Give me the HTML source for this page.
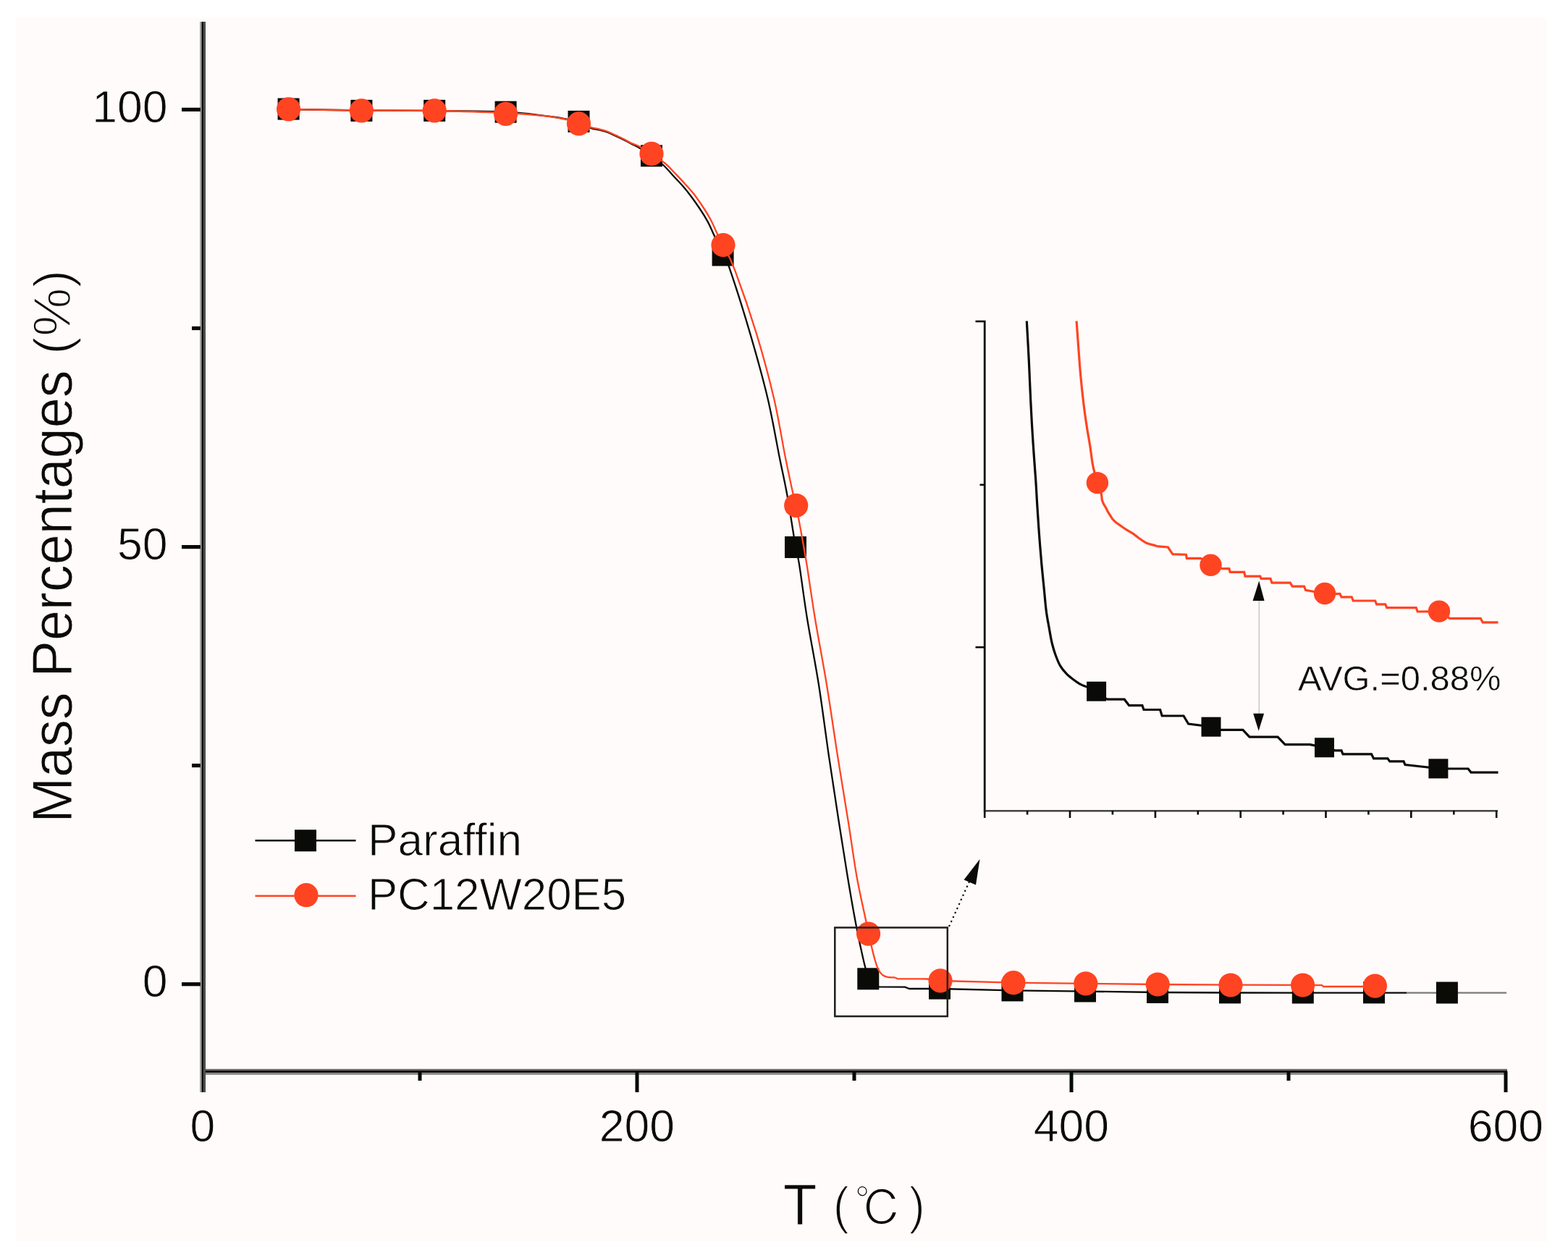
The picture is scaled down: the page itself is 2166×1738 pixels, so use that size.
<!DOCTYPE html>
<html><head><meta charset="utf-8"><title>TGA curves</title>
<style>
html,body{margin:0;padding:0;background:#ffffff;}
body{width:2166px;height:1738px;overflow:hidden;}
svg{display:block;}
svg text{font-family:"Liberation Sans", Arial, Helvetica, sans-serif;fill:#0a0b06;}
</style></head>
<body>
<svg width="2166" height="1738" viewBox="0 0 2166 1738">
<rect x="22" y="24" width="2115" height="1691" fill="#fffbfa"/>
<rect x="276" y="30" width="2" height="1479" fill="#a5a5a0"/>
<rect x="278" y="30" width="1" height="1479" fill="#5e5e5a"/>
<rect x="279" y="30" width="2.2" height="1479" fill="#050604"/>
<rect x="281.2" y="30" width="2.8" height="1479" fill="#4a4a44"/>
<rect x="284" y="1476.8" width="1798" height="2.3" fill="#6a6a65"/>
<rect x="284" y="1479.1" width="1798" height="2.8" fill="#050604"/>
<rect x="284" y="1481.9" width="1798" height="3" fill="#8b8b86"/>
<rect x="251" y="1357.1" width="26" height="5.2" fill="#080a04"/>
<rect x="251" y="753" width="26" height="5.2" fill="#080a04"/>
<rect x="251" y="148.8" width="26" height="5.2" fill="#080a04"/>
<rect x="265" y="1055" width="12" height="5.2" fill="#080a04"/>
<rect x="265" y="450.9" width="12" height="5.2" fill="#080a04"/>
<rect x="877.5" y="1480" width="5" height="29" fill="#080a04"/>
<rect x="1477.5" y="1480" width="5" height="29" fill="#080a04"/>
<rect x="2077.5" y="1480" width="5" height="29" fill="#080a04"/>
<rect x="577.5" y="1480" width="5" height="13" fill="#080a04"/>
<rect x="1177.5" y="1480" width="5" height="13" fill="#080a04"/>
<rect x="1777.5" y="1480" width="5" height="13" fill="#080a04"/>
<text transform="translate(231.6 1377.2) scale(1 1.01)" font-size="62.5" text-anchor="end" stroke="#fffbfa" stroke-linejoin="round" stroke-width="0.8">0</text>
<text transform="translate(231.6 773.1) scale(1 1.01)" font-size="62.5" text-anchor="end" stroke="#fffbfa" stroke-linejoin="round" stroke-width="0.8">50</text>
<text transform="translate(231.6 168.9) scale(1 1.01)" font-size="62.5" text-anchor="end" stroke="#fffbfa" stroke-linejoin="round" stroke-width="0.8">100</text>
<text transform="translate(280 1576.5) scale(1 1.01)" font-size="62.5" text-anchor="middle" stroke="#fffbfa" stroke-linejoin="round" stroke-width="0.8">0</text>
<text transform="translate(880 1576.5) scale(1 1.01)" font-size="62.5" text-anchor="middle" stroke="#fffbfa" stroke-linejoin="round" stroke-width="0.8">200</text>
<text transform="translate(1480 1576.5) scale(1 1.01)" font-size="62.5" text-anchor="middle" stroke="#fffbfa" stroke-linejoin="round" stroke-width="0.8">400</text>
<text transform="translate(2080 1576.5) scale(1 1.01)" font-size="62.5" text-anchor="middle" stroke="#fffbfa" stroke-linejoin="round" stroke-width="0.8">600</text>
<text transform="translate(98.6 1136.8) rotate(-90) scale(1 1.04)" font-size="75.5" stroke="#fffbfa" stroke-linejoin="round" stroke-width="0.8">Mass Percentages</text>
<text transform="translate(97.4 489.9) rotate(-90) scale(1 0.96)" font-size="75.5" stroke="#fffbfa" stroke-linejoin="round" stroke-width="1.8">(%)</text>
<text transform="translate(1082 1691.8) scale(1 1.04)" font-size="76" stroke="#fffbfa" stroke-linejoin="round" stroke-width="0.8">T</text>
<text transform="translate(1150.5 1690.1) scale(1 1.047)" font-size="68.5" stroke="#fffbfa" stroke-linejoin="round" stroke-width="1.8">(</text>
<text transform="translate(1255.2 1690.1) scale(1 1.047)" font-size="68.5" stroke="#fffbfa" stroke-linejoin="round" stroke-width="1.8">)</text>
<text transform="translate(1180.8 1693.8) scale(1 1.029)" font-size="65.6" style="font-family:IPAGothic,'Noto Sans CJK JP',sans-serif" stroke="#fffbfa" stroke-linejoin="round" stroke-width="1.6">&#8451;</text>
<path d="M398.6 151C415.4 151.2 465.8 152.2 499.4 152.5C533 152.8 567 152.6 600.2 153C633.4 153.4 673.4 153.5 698.6 154.7C723.8 155.8 738.2 158.4 751.2 159.9C764.2 161.4 768.7 162.1 776.7 163.5C784.8 164.9 793 166.3 799.5 168.5C806 170.7 811.1 175 816 176.8C820.9 178.7 825 178.7 828.6 179.6C832.2 180.5 833.9 180.8 837.8 182.3C841.6 183.8 847.6 186.5 851.7 188.4C855.8 190.3 858.9 191.7 862.4 193.5C865.9 195.3 869.4 197.3 872.6 199C875.9 200.7 877.3 200.8 881.9 203.5C886.5 206.2 894.2 211.2 900 215.4C905.8 219.6 911.8 224 916.7 228.5C921.6 233 925.1 237.6 929.5 242.3C933.9 247.1 939 252.1 943.2 257C947.5 261.9 951.1 266.4 955 271.7C958.9 276.9 963 282.8 966.8 288.5C970.6 294.2 974.5 300.4 977.6 306.1C980.7 311.8 981.9 315.2 985.5 322.9C989.1 330.6 995.2 344.4 999 352.5C1002.8 360.6 1002 353.8 1008.1 371.6C1014.2 389.4 1027.1 429.7 1035.8 459.4C1044.5 489.1 1053.6 521.4 1060.4 550C1067.2 578.6 1072.1 608.7 1076.6 630.9C1081.1 653.1 1084 665.6 1087.2 683C1090.4 700.4 1093.7 722.8 1095.7 735C1097.7 747.2 1097.6 749 1099 756.3C1100.4 763.6 1101.2 762.6 1103.9 778.9C1106.6 795.2 1110.4 826.1 1114.9 854C1119.4 881.9 1126 914.3 1131 946C1136 977.7 1140.3 1012.5 1144.9 1044C1149.5 1075.5 1154.4 1107.2 1158.7 1135C1163 1162.8 1166.8 1186.8 1170.8 1211C1174.8 1235.2 1179.3 1261 1183 1280.3C1186.7 1299.5 1190.1 1314.9 1192.8 1326.5C1195.5 1338.1 1197.3 1344.3 1199.3 1350C1201.3 1355.7 1202.5 1358.3 1205 1360.5C1207.5 1362.7 1212.5 1362.8 1214 1363.3 M1214 1363.3 L1250 1363.6 L1256 1366 L1298 1366 L1398.5 1368.4 L1499 1369.6 L1599 1371 L1699 1371.5 L1943 1371.6" fill="none" stroke="#0a0b06" stroke-width="2.3" stroke-linejoin="round"/>
<path d="M1943 1371.6 L2081 1371.6" fill="none" stroke="#7a7a75" stroke-width="2.3"/>
<rect x="383.6" y="135.6" width="30" height="30" fill="#0a0b06"/>
<rect x="484.4" y="137.9" width="30" height="30" fill="#0a0b06"/>
<rect x="585.2" y="137.9" width="30" height="30" fill="#0a0b06"/>
<rect x="683.6" y="139.7" width="30" height="30" fill="#0a0b06"/>
<rect x="784.5" y="152.9" width="30" height="30" fill="#0a0b06"/>
<rect x="885" y="200.3" width="30" height="30" fill="#0a0b06"/>
<rect x="983.6" y="337.5" width="30" height="30" fill="#0a0b06"/>
<rect x="1084" y="741" width="30" height="30" fill="#0a0b06"/>
<rect x="1184.3" y="1337.3" width="30" height="30" fill="#0a0b06"/>
<rect x="1283" y="1350.6" width="30" height="30" fill="#0a0b06"/>
<rect x="1383.5" y="1353.4" width="30" height="30" fill="#0a0b06"/>
<rect x="1484" y="1354.5" width="30" height="30" fill="#0a0b06"/>
<rect x="1584" y="1356" width="30" height="30" fill="#0a0b06"/>
<rect x="1684" y="1356.4" width="30" height="30" fill="#0a0b06"/>
<rect x="1784.8" y="1356.5" width="30" height="30" fill="#0a0b06"/>
<rect x="1883" y="1356.4" width="30" height="30" fill="#0a0b06"/>
<rect x="1983.9" y="1356.5" width="30" height="30" fill="#0a0b06"/>
<path d="M398.6 151C415.4 151.2 465.8 152.2 499.4 152.5C533 152.8 567 152.4 600.2 153C633.4 153.6 673.4 154.8 698.6 156C723.8 157.2 738.2 158.7 751.2 160C764.2 161.3 768.7 162.4 776.7 164C784.8 165.6 793 167.5 799.5 169.5C806 171.5 811.1 174.3 816 175.8C820.9 177.3 825 177.7 828.6 178.6C832.2 179.5 833.9 179.8 837.8 181.3C841.6 182.8 847.6 185.5 851.7 187.4C855.8 189.3 858.9 190.7 862.4 192.5C865.9 194.3 869.4 196.5 872.6 198C875.9 199.5 877.3 199.3 881.9 201.7C886.5 204.1 893.7 208.3 900 212.4C906.3 216.5 914.3 222 919.7 226.5C925.1 231 928 234.7 932.4 239.3C936.8 243.9 941.8 249.1 946.2 254C950.6 258.9 954.9 263.6 959 268.8C963.1 274.1 967 279.8 970.8 285.5C974.6 291.2 978.5 297.5 981.6 303.2C984.7 308.9 986.6 314 989.4 319.9C992.2 325.8 994.4 329.9 998.6 338.5C1002.8 347.1 1006.9 351.5 1014.5 371.6C1022.1 391.8 1035.4 429.7 1044.5 459.4C1053.6 489.1 1062.3 521.4 1069 550C1075.7 578.6 1080.2 608.7 1084.7 630.9C1089.2 653.1 1093.2 671.8 1095.7 683C1098.2 694.2 1098.7 692.5 1100 698.3C1101.3 704.1 1102.3 711.5 1103.4 717.6C1104.5 723.7 1104.8 724.8 1106.6 735C1108.4 745.2 1111.1 759.1 1114.3 778.9C1117.5 798.7 1121.2 826.1 1125.8 854C1130.4 881.9 1136.8 914.3 1142 946C1147.2 977.7 1152 1012.2 1157 1044C1162 1075.8 1167.6 1108.7 1172 1136.5C1176.4 1164.3 1179.5 1188.4 1183.5 1211C1187.5 1233.6 1193.5 1258.8 1196.2 1272C1198.9 1285.2 1198.2 1283.6 1199.6 1289.9C1201 1296.2 1202.9 1303.7 1204.4 1309.7C1205.9 1315.7 1207.1 1321.1 1208.6 1326C1210 1330.9 1211.4 1335.5 1213.1 1339C1214.8 1342.5 1216.8 1345 1219 1346.8C1221.2 1348.6 1223.2 1349.2 1226 1349.8C1228.8 1350.4 1234.3 1350.4 1236 1350.5 M1236 1350.5 L1240 1352.3 L1280 1352.5 L1299 1355 L1400 1357.7 L1500 1358.8 L1600 1360 L1700 1360.6 L1800 1361 L1826 1361.2 L1828 1363 L1899.4 1363" fill="none" stroke="#ff4422" stroke-width="2.3" stroke-linejoin="round"/>
<circle cx="398.6" cy="150.8" r="16.6" fill="#ff4422"/>
<circle cx="499.4" cy="152.9" r="16.6" fill="#ff4422"/>
<circle cx="600.2" cy="152.9" r="16.6" fill="#ff4422"/>
<circle cx="698.6" cy="157.3" r="16.6" fill="#ff4422"/>
<circle cx="799.5" cy="170.9" r="16.6" fill="#ff4422"/>
<circle cx="900" cy="212.4" r="16.6" fill="#ff4422"/>
<circle cx="999" cy="338.5" r="16.6" fill="#ff4422"/>
<circle cx="1099.7" cy="698.3" r="16.6" fill="#ff4422"/>
<circle cx="1199.6" cy="1290.2" r="16.6" fill="#ff4422"/>
<circle cx="1299" cy="1354.8" r="16.6" fill="#ff4422"/>
<circle cx="1400" cy="1357.7" r="16.6" fill="#ff4422"/>
<circle cx="1499.8" cy="1358.8" r="16.6" fill="#ff4422"/>
<circle cx="1599.2" cy="1360" r="16.6" fill="#ff4422"/>
<circle cx="1700" cy="1361" r="16.6" fill="#ff4422"/>
<circle cx="1799.6" cy="1361" r="16.6" fill="#ff4422"/>
<circle cx="1899.4" cy="1362.1" r="16.6" fill="#ff4422"/>
<rect x="1153.3" y="1281.5" width="155.5" height="122.6" fill="none" stroke="#1e1f1a" stroke-width="2.5"/>
<line x1="1311" y1="1280" x2="1339" y2="1218" stroke="#111" stroke-width="2.2" stroke-dasharray="2.3 4.3"/>
<polygon points="1353.5,1187 1331.5,1215.5 1348,1222.5" fill="#0a0b06"/>
<rect x="1358.8" y="442.7" width="2.8" height="679" fill="#0a0b06"/>
<rect x="1360" y="1119.1" width="709" height="2.4" fill="#3c3c37"/>
<rect x="1347.5" y="442.7" width="11.5" height="2.6" fill="#0a0b06"/>
<rect x="1353.5" y="668.5" width="5.5" height="2.6" fill="#0a0b06"/>
<rect x="1347.5" y="892.9" width="11.5" height="2.6" fill="#0a0b06"/>
<rect x="1358.9" y="1120" width="2.6" height="10" fill="#0a0b06"/>
<rect x="1417.8" y="1120" width="2.6" height="5.5" fill="#0a0b06"/>
<rect x="1476.7" y="1120" width="2.6" height="10" fill="#0a0b06"/>
<rect x="1535.6" y="1120" width="2.6" height="5.5" fill="#0a0b06"/>
<rect x="1594.6" y="1120" width="2.6" height="10" fill="#0a0b06"/>
<rect x="1653.5" y="1120" width="2.6" height="5.5" fill="#0a0b06"/>
<rect x="1712.4" y="1120" width="2.6" height="10" fill="#0a0b06"/>
<rect x="1771.3" y="1120" width="2.6" height="5.5" fill="#0a0b06"/>
<rect x="1830.2" y="1120" width="2.6" height="10" fill="#0a0b06"/>
<rect x="1889.1" y="1120" width="2.6" height="5.5" fill="#0a0b06"/>
<rect x="1948" y="1120" width="2.6" height="10" fill="#0a0b06"/>
<rect x="2007" y="1120" width="2.6" height="5.5" fill="#0a0b06"/>
<rect x="2065.9" y="1120" width="2.6" height="10" fill="#0a0b06"/>
<path d="M1418.3 443.5C1418.8 453 1420.5 481.7 1421.4 500.3C1422.3 518.9 1422.9 536.8 1423.8 555C1424.7 573.2 1425.7 591.5 1426.9 609.7C1428.1 627.9 1429.8 649.7 1430.8 664.4C1431.8 679.1 1432 685.8 1432.8 698.1C1433.6 710.5 1434.5 725 1435.5 738.5C1436.5 752 1437.7 766.9 1438.8 779C1439.9 791.1 1440.9 800.6 1442 811.4C1443.1 822.2 1444 834.3 1445.2 843.7C1446.4 853.1 1448 860.5 1449.3 868C1450.6 875.5 1451.8 882.8 1453.3 889C1454.8 895.2 1456.3 900.1 1458.2 905.2C1460.1 910.3 1462 915.5 1464.6 919.8C1467.1 924.1 1470.4 927.9 1473.5 931.1C1476.6 934.3 1480 936.8 1483.3 939.2C1486.5 941.6 1490 944.1 1493 945.7C1496 947.3 1498.2 947.7 1501 948.9C1503.8 950.1 1508.5 952.3 1510 953 M1510 953 L1522 963 L1530 966.2 L1553.2 966.2 L1559.7 974.7 L1577.9 974.7 L1580 980.5 L1602.6 980.5 L1605.2 989 L1635 989 L1641.6 1000 L1673 1004 L1686.4 1008.4 L1716.9 1008.4 L1726 1018.2 L1765 1018.2 L1775.2 1028.7 L1809.6 1028.7 L1829.5 1032.8 L1844 1036.8 L1853 1036.8 L1855 1041.8 L1894.5 1041.8 L1897.5 1047.9 L1916.8 1047.9 L1919.8 1051.9 L1939 1051.9 L1941 1056.6 L1972 1060 L1986.9 1061.9 L2028 1062 L2032 1067.1 L2069.5 1067.1" fill="none" stroke="#0a0b06" stroke-width="3.2" stroke-linejoin="miter"/>
<rect x="1501.1" y="941.7" width="27" height="27" fill="#0a0b06"/>
<rect x="1659.5" y="990.7" width="27" height="27" fill="#0a0b06"/>
<rect x="1816" y="1019.3" width="27" height="27" fill="#0a0b06"/>
<rect x="1973.4" y="1048.4" width="27" height="27" fill="#0a0b06"/>
<path d="M1487.1 443.5C1487.5 449.1 1488.6 464.5 1489.5 476.8C1490.4 489.1 1491.4 504.3 1492.6 517.3C1493.8 530.3 1495.1 542.8 1496.5 554.7C1497.9 566.7 1499.6 578.6 1501.2 589C1502.8 599.4 1504.5 608 1505.9 617.1C1507.3 626.2 1508.1 635.3 1509.8 643.6C1511.5 651.9 1514 660.5 1515.9 667.1C1517.8 673.7 1520.3 679.2 1521.4 683.1C1522.5 687 1521.7 688.3 1522.3 690.6C1522.9 692.9 1524 695.2 1524.9 697C1525.8 698.8 1526.8 699.9 1527.7 701.6C1528.7 703.3 1529.6 705.7 1530.6 707.4C1531.6 709.1 1532.4 710.4 1533.5 712C1534.6 713.6 1535.7 715.6 1537 717.2C1538.3 718.8 1539.9 720.3 1541.6 721.8C1543.3 723.2 1545.2 724.3 1547.4 725.9C1549.6 727.5 1552 729.3 1554.9 731.1C1557.8 732.9 1561.8 735 1564.7 736.9C1567.6 738.8 1569.1 740.5 1572.3 742.7C1575.5 744.9 1579.9 748.4 1583.8 750.2C1587.7 752 1593.1 752.9 1595.4 753.6C1597.7 754.3 1597.2 754.4 1597.6 754.6 M1597.6 754.6 L1613.4 756 L1619.9 765.7 L1638.4 766.2 L1639.4 771.3 L1658.8 771.3 L1672 780.8 L1688.8 785.7 L1697.9 785.7 L1699.2 790.3 L1718.7 790.3 L1720 796.1 L1740.8 796.1 L1742 799.4 L1755 799.4 L1757 805.2 L1782.2 805.2 L1785.3 810.2 L1801.5 810.2 L1803.5 815.3 L1830 820 L1845 820.3 L1851 820.3 L1853 824.8 L1867.2 824.8 L1869.2 830 L1899.6 830 L1901.6 834.9 L1913.7 834.9 L1915.7 839.6 L1956.2 839.6 L1958.2 845 L1988 844.6 L2002.7 854.3 L2045.2 854.3 L2048.2 859.8 L2069.5 859.8" fill="none" stroke="#ff4422" stroke-width="3.2" stroke-linejoin="miter"/>
<circle cx="1515.9" cy="667.1" r="15.2" fill="#ff4422"/>
<circle cx="1672.5" cy="780.8" r="15.2" fill="#ff4422"/>
<circle cx="1830" cy="820" r="15.2" fill="#ff4422"/>
<circle cx="1988" cy="844.6" r="15.2" fill="#ff4422"/>
<line x1="1739.3" y1="828" x2="1739.3" y2="988" stroke="#c9c9c6" stroke-width="1.6"/>
<polygon points="1739.2,802.6 1730.6,830 1746.6,830" fill="#0a0b06"/>
<polygon points="1738.7,1009.7 1731.2,985.7 1746.1,985.7" fill="#0a0b06"/>
<text transform="translate(1793 953.7) scale(1 1.0)" font-size="48.9" stroke="#fffbfa" stroke-linejoin="round" stroke-width="0.6">AVG.=0.88%</text>
<line x1="352.5" y1="1161.3" x2="491.5" y2="1161.3" stroke="#0a0b06" stroke-width="2.6"/>
<rect x="407" y="1146.3" width="30" height="30" fill="#0a0b06"/>
<text transform="translate(508 1181.6) scale(1 1.02)" font-size="62.2" stroke="#fffbfa" stroke-linejoin="round" stroke-width="1">Paraffin</text>
<line x1="352.5" y1="1237.7" x2="491.5" y2="1237.7" stroke="#ff4422" stroke-width="2.6"/>
<circle cx="423" cy="1236.7" r="16.6" fill="#ff4422"/>
<text transform="translate(507.9 1257.4) scale(1 1.02)" font-size="61.8" stroke="#fffbfa" stroke-linejoin="round" stroke-width="1">PC12W20E5</text>
</svg>
</body></html>
